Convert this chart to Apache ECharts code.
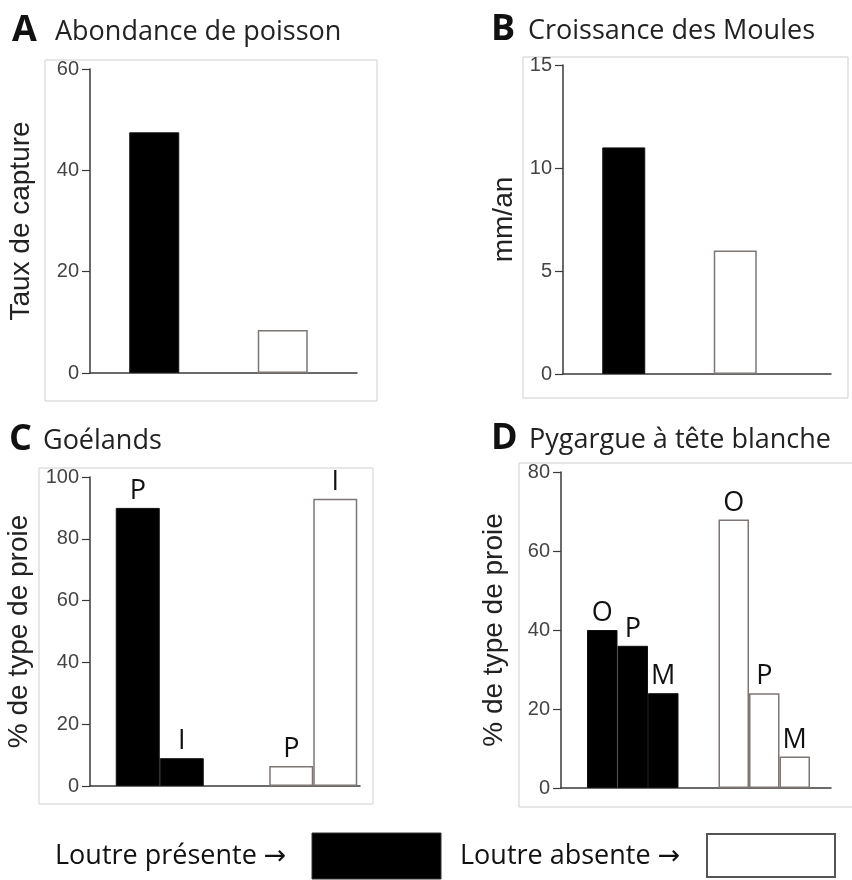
<!DOCTYPE html>
<html>
<head>
<meta charset="utf-8">
<script src="https://cdn.jsdelivr.net/npm/echarts@6/dist/echarts.min.js"></script>
<style>
  html, body { margin: 0; padding: 0; background: #fff; }
  #chart { width: 852px; height: 880px; }
</style>
</head>
<body>
<div id="chart"></div>
<script>
// groupes : loutre présente / absente
const groups = ['Loutre présente', 'Loutre absente'];

// A - Abondance de poisson (taux de capture)
const poissonValues = [47.5, 8.5];
// B - Croissance des moules (mm/an)
const moulesValues = [11, 6];
// C - Goélands (% de type de proie)
const goelandPrey = ['P', 'I'];
const goelandPresent = [90, 9];
const goelandAbsent = [6.5, 93];
// D - Pygargue à tête blanche (% de type de proie)
const pygargPrey = ['O', 'P', 'M'];
const pygargPresent = [40, 36, 24];
const pygargAbsent = [68, 24, 8];

// axes
const yMax = [60, 15, 100, 80];
const yStep = [20, 5, 20, 20];
const yNames = ['Taux de capture', 'mm/an', '% de type de proie', '% de type de proie'];
const titles = [
  ['A', 'Abondance de poisson'],
  ['B', 'Croissance des Moules'],
  ['C', 'Goélands'],
  ['D', 'Pygargue à tête blanche']
];

const TXT = '"Open Sans", "DejaVu Sans", sans-serif';
const AX = '"Liberation Sans", Arial, sans-serif';

// position des panneaux
const layout = [
  { frame: [90, 69, 267, 304], bars: [90, 257], gap: 55, barW: 50, box: [45, 60, 332, 341], title: [12, 55, 32] },
  { frame: [563, 65, 268, 309], bars: [568, 223], gap: 45, barW: 43, box: [523, 57, 325, 341], title: [491, 528, 31] },
  { frame: [90, 477, 270, 309], bars: [83, 307], gap: 57, barW: 44, box: [39, 468, 334, 336], title: [9, 43, 441] },
  { frame: [561, 472, 270, 316], bars: [567, 263], gap: 53, barW: 30.5, box: [519, 463, 340, 344], title: [491, 529, 440] }
];

function item(v, g) {
  return g === 0
    ? { value: v, itemStyle: { color: '#000', borderColor: '#111', borderWidth: 1 } }
    : { value: v, itemStyle: { color: '#fff', borderColor: '#7d7673', borderWidth: 1.5 } };
}

const grid = [], xAxis = [], yAxis = [], series = [], graphic = [];

layout.forEach(function (p, i) {
  const f = p.frame;
  // grille visible (axes)
  grid.push({ left: f[0], top: f[1], width: f[2], height: f[3] });
  xAxis.push({
    type: 'category', gridIndex: 2 * i, data: ['', ''],
    axisLine: { show: true, lineStyle: { color: '#3a3a3a', width: 1.5 } },
    axisTick: { show: false }, axisLabel: { show: false }
  });
  yAxis.push({
    type: 'value', gridIndex: 2 * i, min: 0, max: yMax[i], interval: yStep[i],
    name: yNames[i], nameLocation: 'middle', nameRotate: 90, nameGap: p.gap,
    nameTextStyle: { fontFamily: AX, fontSize: 28, color: '#222' },
    axisLine: { show: true, lineStyle: { color: '#3a3a3a', width: 1.5 } },
    axisTick: { show: true, length: 8, lineStyle: { color: '#3a3a3a', width: 1.2 } },
    axisLabel: { fontFamily: AX, fontSize: 20, color: '#444', margin: 11 },
    splitLine: { show: false }
  });
  // grille des barres
  grid.push({ left: p.bars[0], top: f[1], width: p.bars[1], height: f[3] });
  xAxis.push({ type: 'category', gridIndex: 2 * i + 1, data: groups, show: false });
  yAxis.push({ type: 'value', gridIndex: 2 * i + 1, min: 0, max: yMax[i], show: false });

  // cadre + titres
  graphic.push({
    type: 'rect', z: -1, silent: true,
    shape: { x: p.box[0], y: p.box[1], width: p.box[2], height: p.box[3] },
    style: { fill: 'none', stroke: '#cfcfcf', lineWidth: 1 }
  });
  graphic.push({
    type: 'text', left: p.title[0], top: p.title[2] - 19,
    style: { text: titles[i][0], font: 'bold 36px ' + TXT, fill: '#111' }
  });
  graphic.push({
    type: 'text', left: p.title[1], top: p.title[2] - 13,
    style: { text: titles[i][1], font: '27px ' + TXT, fill: '#222' }
  });
});

const labelStyle = {
  show: true, position: 'top', formatter: '{a}', distance: 3,
  fontFamily: TXT, fontSize: 27, color: '#111'
};

series.push({
  type: 'bar', name: 'poisson', xAxisIndex: 1, yAxisIndex: 1, barWidth: layout[0].barW,
  data: poissonValues.map(item)
});
series.push({
  type: 'bar', name: 'moules', xAxisIndex: 3, yAxisIndex: 3, barWidth: layout[1].barW,
  data: moulesValues.map(item)
});
goelandPrey.forEach(function (name, j) {
  series.push({
    type: 'bar', name: name, xAxisIndex: 5, yAxisIndex: 5,
    barWidth: layout[2].barW, barGap: '0%',
    label: labelStyle,
    data: [item(goelandPresent[j], 0), item(goelandAbsent[j], 1)]
  });
});
pygargPrey.forEach(function (name, j) {
  series.push({
    type: 'bar', name: name, xAxisIndex: 7, yAxisIndex: 7,
    barWidth: layout[3].barW, barGap: '0%',
    label: Object.assign({}, labelStyle, { fontSize: 27 }),
    data: [item(pygargPresent[j], 0), item(pygargAbsent[j], 1)]
  });
});

// légende en bas
graphic.push(
  { type: 'text', left: 55, top: 843, style: { text: 'Loutre présente →', font: '27px ' + TXT, fill: '#111' } },
  { type: 'rect', shape: { x: 312, y: 833, width: 129, height: 46 }, style: { fill: '#000', stroke: '#333', lineWidth: 1 } },
  { type: 'text', left: 460, top: 843, style: { text: 'Loutre absente →', font: '27px ' + TXT, fill: '#111' } },
  { type: 'rect', shape: { x: 707, y: 834, width: 128, height: 43 }, style: { fill: '#fff', stroke: '#555', lineWidth: 2 } }
);

const chart = echarts.init(document.getElementById('chart'));
chart.setOption({
  animation: false,
  backgroundColor: '#fff',
  grid: grid,
  xAxis: xAxis,
  yAxis: yAxis,
  series: series,
  graphic: graphic
});
</script>
</body>
</html>
